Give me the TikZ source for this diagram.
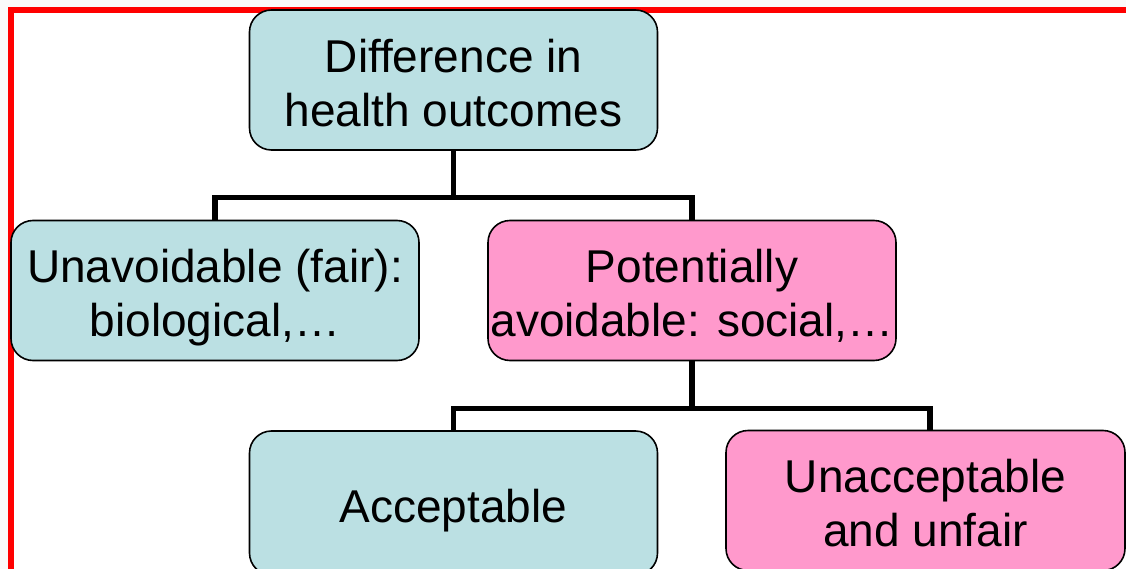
\documentclass[tikz,border=0pt]{standalone}
\usepackage{fontspec}
\setmainfont{Liberation Sans}
\usetikzlibrary{calc}
\definecolor{teal}{HTML}{BBE0E3}
\definecolor{pinkbox}{HTML}{FF99CC}
\definecolor{framered}{HTML}{FF0000}
\definecolor{outerbg}{HTML}{FAFAFA}
\newcommand\boxtext[1]{\raisebox{0pt}[\dimexpr\height+17pt\relax][\depth]{\begin{tabular}{@{}c@{}}#1\end{tabular}}}
\tikzset{
  box/.style={draw=black, line width=1.6pt, rounded corners=22pt,
    minimum width=408pt, minimum height=140pt, inner sep=0pt,
    font=\fontsize{46}{54}\selectfont},
  tealbox/.style={box, fill=teal},
  pinkbx/.style={box, fill=pinkbox},
  conn/.style={draw=black, line width=5.5pt},
}
\begin{document}
\begin{tikzpicture}[x=1pt,y=-1pt]
\useasboundingbox (0,0) rectangle (1126,569);
\clip (0,0) rectangle (1126,569);
\fill[outerbg] (0,0) rectangle (1126,569);
\fill[white] (10.8,9.7) rectangle (1126,569);
\draw[framered, line width=6pt] (10.8,575) -- (10.8,9.7) -- (1130,9.7);

\node[tealbox] (top) at (453.5,80) {\boxtext{Difference in\\health outcomes}};
\node[tealbox] (left) at (215,290.5) {\boxtext{Unavoidable (fair):\\biological,…}};
\node[pinkbx] (mid) at (692,290.5) {\boxtext{Potentially\\avoidable: social,…}};
\node[tealbox, minimum height=144pt] (acc) at (453.5,503) {\boxtext{Acceptable}};
\node[pinkbx, minimum width=399pt] (unacc) at (925.5,500.5) {\boxtext{Unacceptable\\and unfair}};

\draw[conn] (top.south) -- ++(0,46.5) coordinate (j1);
\draw[conn] (left.north) |- (j1) -| (mid.north);
\draw[conn] (mid.south) -- ++(0,47) coordinate (j2);
\draw[conn] (acc.north) |- (j2) -| ([xshift=4.5pt]unacc.north);
\end{tikzpicture}
\end{document}
